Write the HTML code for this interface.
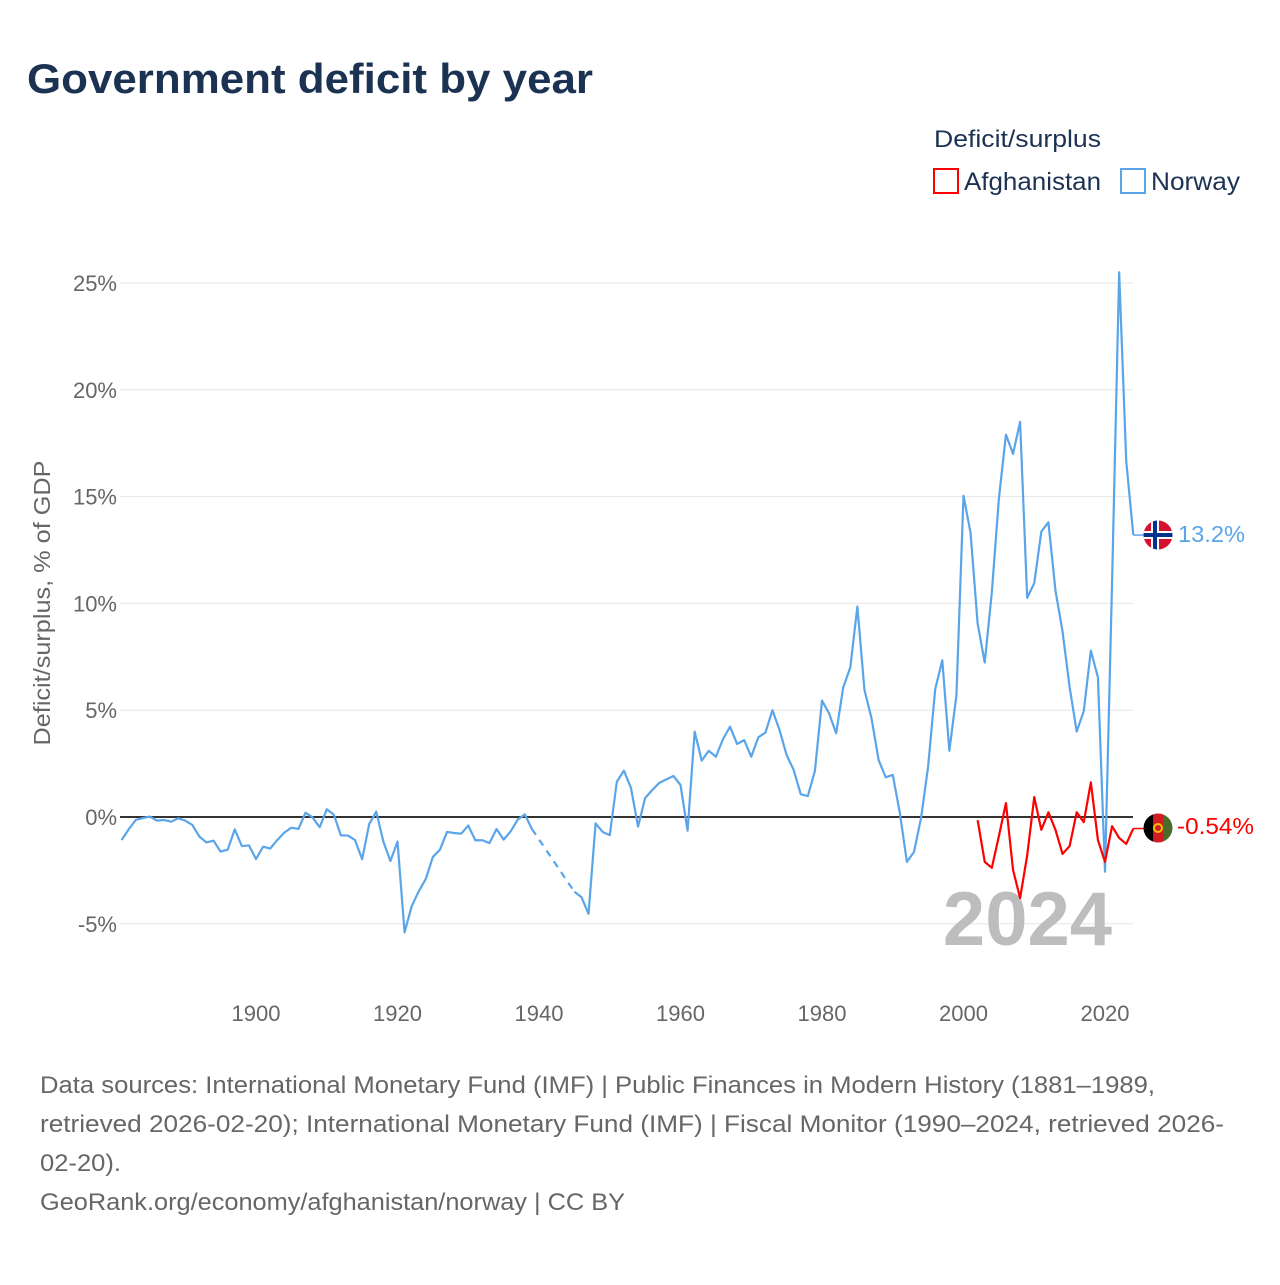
<!DOCTYPE html>
<html><head><meta charset="utf-8">
<style>
body{margin:0;background:#fff;width:1280px;height:1280px;overflow:hidden;font-family:"Liberation Sans",sans-serif;}
svg text{font-family:"Liberation Sans",sans-serif;}
</style></head>
<body>
<svg id="chart" width="1280" height="1280" viewBox="0 0 1280 1280" xmlns="http://www.w3.org/2000/svg">
<text x="27" y="93" font-size="42" font-weight="bold" fill="#1b3252" textLength="566" lengthAdjust="spacingAndGlyphs">Government deficit by year</text>
<text x="934" y="147" font-size="24" fill="#1b3252" textLength="167" lengthAdjust="spacingAndGlyphs">Deficit/surplus</text>
<g>
<rect x="934" y="169" width="24" height="24" fill="none" stroke="#ff0000" stroke-width="2"/>
<text x="964" y="190" font-size="25" fill="#1b3252" textLength="137" lengthAdjust="spacingAndGlyphs">Afghanistan</text>
</g>
<g>
<rect x="1121" y="169" width="24" height="24" fill="none" stroke="#5aa5ea" stroke-width="2"/>
<text x="1151" y="190" font-size="25" fill="#1b3252" textLength="89" lengthAdjust="spacingAndGlyphs">Norway</text>
</g>
<text transform="translate(50,603) rotate(-90)" text-anchor="middle" font-size="23" fill="#666" textLength="285" lengthAdjust="spacingAndGlyphs">Deficit/surplus, % of GDP</text>
<g id="grid"></g>
<g id="xticks"></g>
<text x="1112" y="945" text-anchor="end" font-size="76" font-weight="bold" fill="#bdbdbd">2024</text>
<g id="series"></g>
<g>
<clipPath id="cn"><circle cx="1158" cy="535" r="14.5"/></clipPath>
<g clip-path="url(#cn)">
<rect x="1143" y="520" width="30" height="30" fill="#d8102f"/>
<rect x="1143" y="531" width="30" height="8" fill="#fff"/>
<rect x="1151" y="520" width="8" height="30" fill="#fff"/>
<rect x="1143" y="533" width="30" height="4" fill="#00338f"/>
<rect x="1153" y="520" width="4" height="30" fill="#00338f"/>
</g></g>
<text x="1178" y="542" font-size="23" fill="#5aa5ea" textLength="67" lengthAdjust="spacingAndGlyphs">13.2%</text>
<g>
<clipPath id="ca"><circle cx="1158" cy="828" r="14.5"/></clipPath>
<g clip-path="url(#ca)">
<rect x="1143" y="813" width="10" height="30" fill="#000"/>
<rect x="1153" y="813" width="10" height="30" fill="#d21b23"/>
<rect x="1163" y="813" width="10" height="30" fill="#4a6b2a"/>
<circle cx="1158" cy="828" r="4" fill="none" stroke="#f2c200" stroke-width="2"/>
</g></g>
<text x="1177" y="834" font-size="23" fill="#ff0000" textLength="77" lengthAdjust="spacingAndGlyphs">-0.54%</text>
<g font-size="24" fill="#666">
<text x="40" y="1093" textLength="1115" lengthAdjust="spacingAndGlyphs">Data sources: International Monetary Fund (IMF) | Public Finances in Modern History (1881–1989,</text>
<text x="40" y="1132" textLength="1184" lengthAdjust="spacingAndGlyphs">retrieved 2026-02-20); International Monetary Fund (IMF) | Fiscal Monitor (1990–2024, retrieved 2026-</text>
<text x="40" y="1171" textLength="81" lengthAdjust="spacingAndGlyphs">02-20).</text>
<text x="40" y="1210" textLength="585" lengthAdjust="spacingAndGlyphs">GeoRank.org/economy/afghanistan/norway | CC BY</text>
</g>
</svg>
<script>
const yTicks=[-5,0,5,10,15,20,25];
const yTickLabels=["-5%","0%","5%","10%","15%","20%","25%"];
const xTicks=[1900,1920,1940,1960,1980,2000,2020];
const norwayStart=1881;
const norwayValues=[-1.08,-0.58,-0.14,-0.05,0.02,-0.17,-0.14,-0.22,-0.06,-0.17,-0.37,-0.92,-1.19,-1.11,-1.62,-1.53,-0.58,-1.36,-1.33,-1.97,
-1.39,-1.48,-1.08,-0.73,-0.5,-0.56,0.2,-0.02,-0.48,0.36,0.11,-0.86,-0.87,-1.08,-1.98,-0.33,0.25,-1.15,-2.06,-1.15,
-5.4,-4.18,-3.48,-2.9,-1.87,-1.53,-0.7,-0.75,-0.78,-0.4,-1.09,-1.09,-1.22,-0.56,-1.06,-0.67,-0.12,0.12,-0.56,null,
null,null,null,null,-3.5,-3.75,-4.53,-0.3,-0.7,-0.85,1.65,2.17,1.36,-0.45,0.89,1.26,1.6,1.76,1.92,1.5,
-0.64,4.0,2.64,3.1,2.82,3.64,4.23,3.42,3.6,2.82,3.73,3.95,5.0,4.07,2.9,2.2,1.06,0.98,2.17,5.45,
4.85,3.92,6.07,7.0,9.85,5.95,4.62,2.67,1.86,1.97,0.2,-2.1,-1.64,-0.05,2.36,5.98,7.34,3.1,5.7,15.04,
13.3,9.05,7.23,10.5,14.9,17.9,17.0,18.5,10.26,10.95,13.36,13.8,10.6,8.68,6.08,4.0,4.96,7.79,6.54,-2.56,
11.0,25.5,16.67,13.2];
const afgStart=2002;
const afgValues=[-0.15,-2.1,-2.38,-0.9,0.65,-2.47,-3.8,-1.8,0.93,-0.6,0.22,-0.6,-1.73,-1.36,0.22,-0.24,1.62,-1.08,-2.1,-0.43,-0.98,-1.26,-0.54];

const NS="http://www.w3.org/2000/svg";
const X=yr=>256+(yr-1900)*7.075;
const Y=v=>817-v*21.36;
function mk(tag,attrs,parent){const e=document.createElementNS(NS,tag);for(const k in attrs)e.setAttribute(k,attrs[k]);parent.appendChild(e);return e;}
const grid=document.getElementById('grid');
yTicks.forEach((t,i)=>{
  if(t!==0){const l=mk('line',{x1:120,x2:1133,y1:Y(t),y2:Y(t),stroke:'#e6e6e6','stroke-width':1},grid);
  
  }
  const tx=mk('text',{x:117,y:Y(t)+8,'text-anchor':'end','font-size':22,fill:'#666'},grid);
  tx.textContent=yTickLabels[i];
  
  
});
const xt=document.getElementById('xticks');
xTicks.forEach(t=>{
  const tx=mk('text',{x:X(t),y:1021,'text-anchor':'middle','font-size':22,fill:'#666'},xt);
  tx.textContent=t;
  
  
});
const zl=mk('line',{x1:120,x2:1133,y1:Y(0),y2:Y(0),stroke:'#333','stroke-width':2},grid);



const sg=document.getElementById('series');
function drawSeries(start,vals,color,name){
  let segs=[],cur=[];
  vals.forEach((v,i)=>{if(v===null){if(cur.length)segs.push(cur);cur=[];}else cur.push([X(start+i),Y(v)]);});
  if(cur.length)segs.push(cur);
  segs.forEach(s=>{
    const p=mk('polyline',{points:s.map(q=>q.join(',')).join(' '),fill:'none',stroke:color,'stroke-width':2.2,'stroke-linejoin':'round'},sg);
    
    
  });
  for(let i=1;i<segs.length;i++){
    const a=segs[i-1][segs[i-1].length-1],b=segs[i][0];
    const d=mk('line',{x1:a[0],y1:a[1],x2:b[0],y2:b[1],stroke:color,'stroke-width':2.2,'stroke-dasharray':'7,6'},sg);
    
    
  }
  const last=segs[segs.length-1];const e=last[last.length-1];
  const c=mk('line',{x1:e[0],y1:e[1],x2:1145,y2:e[1],stroke:color,'stroke-width':1.5},sg);
  
  
}
drawSeries(norwayStart,norwayValues,'#5aa5ea','norway');
drawSeries(afgStart,afgValues,'#ff0000','afghanistan');
</script>
</body></html>
